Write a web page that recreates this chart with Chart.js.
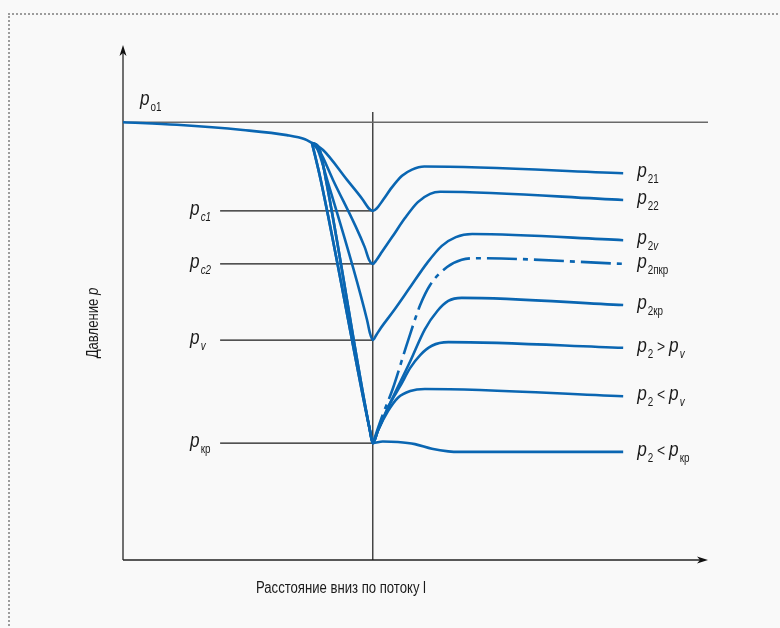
<!DOCTYPE html>
<html lang="ru">
<head>
<meta charset="utf-8">
<title>Давление вниз по потоку</title>
<script src="https://cdn.jsdelivr.net/npm/chart.js@4.4.1/dist/chart.umd.min.js"></script>
<style>
  html, body { margin: 0; padding: 0; background: #f9f9f9; }
  .frame { position: relative; width: 780px; height: 628px; overflow: hidden; }
  .frame::before {
    content: ''; position: absolute; left: 8px; top: 13px; right: -10px; bottom: -10px;
    border-top: 2px dotted #9c9c9c; border-left: 2px dotted #9c9c9c;
  }
  canvas { position: absolute; left: 0; top: 0; }
</style>
</head>
<body>
<div class="frame"><canvas id="myChart" width="780" height="628"></canvas></div>
<script>
const ctx = document.getElementById('myChart').getContext('2d');
const blue = '#0a66b2';
const font = "'Liberation Sans', Arial, sans-serif";
const squeeze = 0.82; // condensed look of the original lettering

// units: x = distance 0..100, y = pressure 0..100
// approach to the vena contracta, shared by all curves
const xApproach = [0, 9.2, 20.5, 28.0, 31.1, 32.3];
const yApproach = [85.0, 84.5, 83.5, 82.5, 81.7, 81.0];

const xP21 = [32.3, 34.2, 38.3, 40.9, 42.0, 42.7, 43.4, 44.5, 46.0, 47.7, 49.4, 51.5, 85.5];
const yP21 = [81.0, 79.6, 73.8, 70.1, 68.3, 67.8, 68.3, 70.0, 72.4, 74.6, 75.8, 76.4, 75.1];

const xP22 = [32.3, 33.5, 35.9, 41.3, 42.1, 42.7, 43.3, 44.3, 46.0, 48.2, 50.4, 52.5, 54.2, 85.5];
const yP22 = [81.0, 79.6, 73.8, 60.8, 58.2, 57.5, 58.2, 59.9, 62.7, 66.4, 69.5, 71.1, 71.5, 69.9];

const xP2v = [32.3, 33.3, 34.9, 41.7, 42.2, 42.7, 43.3, 44.1, 46.2, 49.1, 52.0, 54.5, 56.9, 59.7, 85.5];
const yP2v = [81.0, 79.6, 73.8, 46.7, 44.1, 42.7, 43.7, 45.1, 48.3, 53.0, 57.7, 61.0, 62.7, 63.3, 62.1];

// two slightly different drops down to p_kr
const xDropA = [32.3, 33.8, 42.2, 42.7];
const yDropA = [81.0, 73.8, 25.2, 22.7];
const xDropB = [32.3, 33.5, 34.7, 42.2, 42.7];
const yDropB = [81.0, 80.0, 73.8, 25.2, 22.7];

const xP2kr = [43.6, 45.6, 49.1, 51.6, 53.7, 55.6, 57.9, 85.5];
const yP2kr = [25.2, 30.3, 38.6, 44.8, 48.3, 50.3, 50.9, 49.5];

const xP2GtPv = [43.6, 45.6, 47.4, 49.1, 50.8, 52.8, 55.6, 85.5];
const yP2GtPv = [25.2, 30.3, 33.8, 37.3, 39.8, 41.6, 42.3, 41.2];

const xP2LtPv = [43.6, 45.3, 47.0, 49.1, 51.6, 85.5];
const yP2LtPv = [25.2, 28.9, 31.5, 32.8, 33.2, 31.8];

const xP2LtPkr = [44.4, 47.0, 49.9, 52.8, 55.6, 57.6, 85.5];
const yP2LtPkr = [23.0, 22.9, 22.5, 21.6, 21.1, 21.0, 21.0];

const xP2nkr = [42.7, 44.4, 46.1, 48.7, 50.8, 52.5, 55.4, 57.9, 60.5, 85.5];
const yP2nkr = [22.7, 28.2, 33.2, 42.5, 49.5, 53.4, 56.9, 58.3, 58.6, 57.5];

// reference levels on the left
const levelSubs = ['c1', 'c2', 'v', 'кр'];
const levelValues = [67.8, 57.5, 42.7, 22.7];
const levelStartX = 16.6;
const throatX = 42.7;
const throatTop = 87.0;
const inletLevel = 85.0;

function pts(xs, ys) {
    return xs.map((x, i) => ({ x: x, y: ys[i] }));
}

function curve(xs, ys, extra) {
    return Object.assign({
        data: pts(xs, ys),
        borderColor: blue,
        borderWidth: 2.6,
        pointRadius: 0,
        cubicInterpolationMode: 'monotone',
        fill: false,
        clip: false,
        order: 0
    }, extra || {});
}

function refLine(xs, ys, color, width) {
    return {
        data: pts(xs, ys),
        borderColor: color,
        borderWidth: width,
        pointRadius: 0,
        tension: 0,
        fill: false,
        clip: false,
        order: 5
    };
}

const datasets = [
    curve(xApproach, yApproach),
    curve(xP21, yP21),
    curve(xP22, yP22),
    curve(xP2v, yP2v),
    curve(xDropA.concat(xP2kr), yDropA.concat(yP2kr)),
    curve(xDropA.concat(xP2GtPv), yDropA.concat(yP2GtPv)),
    curve(xDropB.concat(xP2LtPv), yDropB.concat(yP2LtPv)),
    curve(xDropB.concat(xP2LtPkr), yDropB.concat(yP2LtPkr)),
    curve(xP2nkr, yP2nkr, { borderDash: [30, 6, 5, 6] }),
    refLine([0, 100], [inletLevel, inletLevel], '#6a6a6a', 1.4),
    refLine([throatX, throatX], [0, throatTop], '#1a1a1a', 1.2)
];
levelValues.forEach(v => datasets.push(refLine([levelStartX, throatX], [v, v], '#1a1a1a', 1.2)));

// right-hand labels: [end y value, parts]
const rightLabels = [
    [yP21[yP21.length - 1], [['p', 'm'], ['21', 's']]],
    [yP22[yP22.length - 1], [['p', 'm'], ['22', 's']]],
    [yP2v[yP2v.length - 1], [['p', 'm'], ['2', 's'], ['v', 'si']]],
    [yP2nkr[yP2nkr.length - 1], [['p', 'm'], ['2пкр', 's']]],
    [yP2kr[yP2kr.length - 1], [['p', 'm'], ['2кр', 's']]],
    [yP2GtPv[yP2GtPv.length - 1], [['p', 'm'], ['2', 's'], [' > ', 'o'], ['p', 'm'], ['v', 'si']]],
    [yP2LtPv[yP2LtPv.length - 1], [['p', 'm'], ['2', 's'], [' < ', 'o'], ['p', 'm'], ['v', 'si']]],
    [yP2LtPkr[yP2LtPkr.length - 1], [['p', 'm'], ['2', 's'], [' < ', 'o'], ['p', 'm'], ['кр', 's']]]
];

function squeezedText(c, t, x, y) {
    c.save();
    c.translate(x, y);
    c.scale(squeeze, 1);
    c.fillText(t, 0, 0);
    c.restore();
    return c.measureText(t).width * squeeze;
}

function drawParts(c, x, base, parts) {
    parts.forEach(([t, kind]) => {
        let f, dy = 0;
        if (kind === 'm') f = 'italic 21px ' + font;
        else if (kind === 's') { f = '12px ' + font; dy = 6; }
        else if (kind === 'si') { f = 'italic 12px ' + font; dy = 6; }
        else f = '17px ' + font;
        c.font = f;
        x += squeezedText(c, t, x, base + dy) + (kind === 'm' ? 1 : 0);
    });
}

function arrow(c, tipX, tipY, dir) {
    c.beginPath();
    if (dir === 'up') {
        c.moveTo(tipX, tipY);
        c.lineTo(tipX - 3.5, tipY + 11);
        c.lineTo(tipX, tipY + 8);
        c.lineTo(tipX + 3.5, tipY + 11);
    } else {
        c.moveTo(tipX, tipY);
        c.lineTo(tipX - 11, tipY - 3.5);
        c.lineTo(tipX - 8, tipY);
        c.lineTo(tipX - 11, tipY + 3.5);
    }
    c.closePath();
    c.fill();
}

const diagramPlugin = {
    id: 'diagram',
    beforeDatasetsDraw(chart) {
        const c = chart.ctx;
        const a = chart.chartArea;
        c.save();
        // y axis
        c.strokeStyle = '#707070';
        c.lineWidth = 2;
        c.beginPath();
        c.moveTo(a.left, a.bottom);
        c.lineTo(a.left, a.top + 6);
        c.stroke();
        c.fillStyle = '#111';
        arrow(c, a.left, a.top, 'up');
        // x axis
        c.strokeStyle = '#222';
        c.lineWidth = 1.5;
        c.beginPath();
        c.moveTo(a.left, a.bottom);
        c.lineTo(a.right - 6, a.bottom);
        c.stroke();
        arrow(c, a.right, a.bottom, 'right');
        c.restore();
    },
    afterDraw(chart) {
        const c = chart.ctx;
        const xs = chart.scales.x;
        const ys = chart.scales.y;
        c.save();
        c.fillStyle = '#1a1a1a';
        c.textBaseline = 'alphabetic';
        c.textAlign = 'left';

        const rx = xs.getPixelForValue(85.5) + 14;
        rightLabels.forEach(([v, parts]) => drawParts(c, rx, ys.getPixelForValue(v) + 4, parts));

        const lx = xs.getPixelForValue(levelStartX) - 30;
        levelValues.forEach((v, i) => {
            const sub = levelSubs[i];
            const kind = (sub === 'кр') ? 's' : 'si';
            drawParts(c, lx, ys.getPixelForValue(v) + 4, [['p', 'm'], [sub, kind]]);
        });

        drawParts(c, xs.getPixelForValue(0) + 17, ys.getPixelForValue(inletLevel) - 17, [['p', 'm'], ['о1', 's']]);

        // axis titles
        c.font = '16px ' + font;
        const xTitle = 'Расстояние вниз по потоку l';
        const w = c.measureText(xTitle).width * squeeze;
        squeezedText(c, xTitle, 341 - w / 2, 593);

        c.translate(98, 323);
        c.rotate(-Math.PI / 2);
        const yWord = 'Давление ';
        c.font = '16px ' + font;
        const w1 = c.measureText(yWord).width * squeeze;
        c.font = 'italic 16px ' + font;
        const w2 = c.measureText('p').width * squeeze;
        const start = -(w1 + w2) / 2;
        c.font = '16px ' + font;
        squeezedText(c, yWord, start, 0);
        c.font = 'italic 16px ' + font;
        squeezedText(c, 'p', start + w1, 0);
        c.restore();
    }
};

new Chart(ctx, {
    type: 'line',
    data: { datasets: datasets },
    options: {
        responsive: false,
        animation: false,
        events: [],
        layout: { padding: { left: 123, right: 72, top: 45, bottom: 68 } },
        scales: {
            x: { type: 'linear', min: 0, max: 100, display: false },
            y: { type: 'linear', min: 0, max: 100, display: false }
        },
        plugins: { legend: { display: false }, tooltip: { enabled: false } }
    },
    plugins: [diagramPlugin]
});
</script>
</body>
</html>
